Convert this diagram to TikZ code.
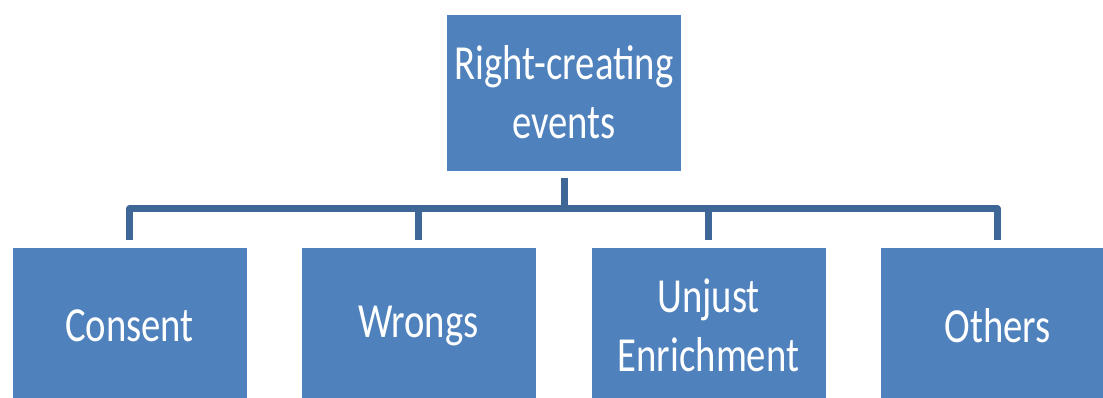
\documentclass[tikz,border=0pt]{standalone}
\usepackage{fontspec}
\setmainfont[FakeStretch=0.79]{Carlito}
\definecolor{boxblue}{RGB}{79,129,189}
\definecolor{connblue}{RGB}{62,102,150}
\begin{document}
\begin{tikzpicture}[x=1pt,y=-1pt,
  box/.style={rectangle, fill=boxblue, draw=white, line width=0.8pt,
    minimum width=235pt, minimum height=157pt, inner sep=0pt,
    text=white, align=center, font=\fontsize{49}{59}\selectfont},
  conn/.style={draw=connblue, line width=7pt, line join=round}]
\useasboundingbox (0,0) rectangle (1103,398);
\clip (0,0) rectangle (1103,398);
\node[box] (top) at (564,92.5) {Right-creating\\events};
\node[box] (c1) at (129.5,325.5) {Consent};
\node[box] (c2) at (418.5,325.5) {Wrongs};
\node[box] (c3) at (708.5,325.5) {Unjust\\Enrichment};
\node[box] (c4) at (997.5,325.5) {Others};
\coordinate (bar) at (564,209);
\draw[conn] ([yshift=-7pt]top.south) -- (bar);
\foreach \c in {c1,c2,c3,c4}
  \draw[conn] (bar) -| ([yshift=7pt]\c.north);
\end{tikzpicture}
\end{document}
